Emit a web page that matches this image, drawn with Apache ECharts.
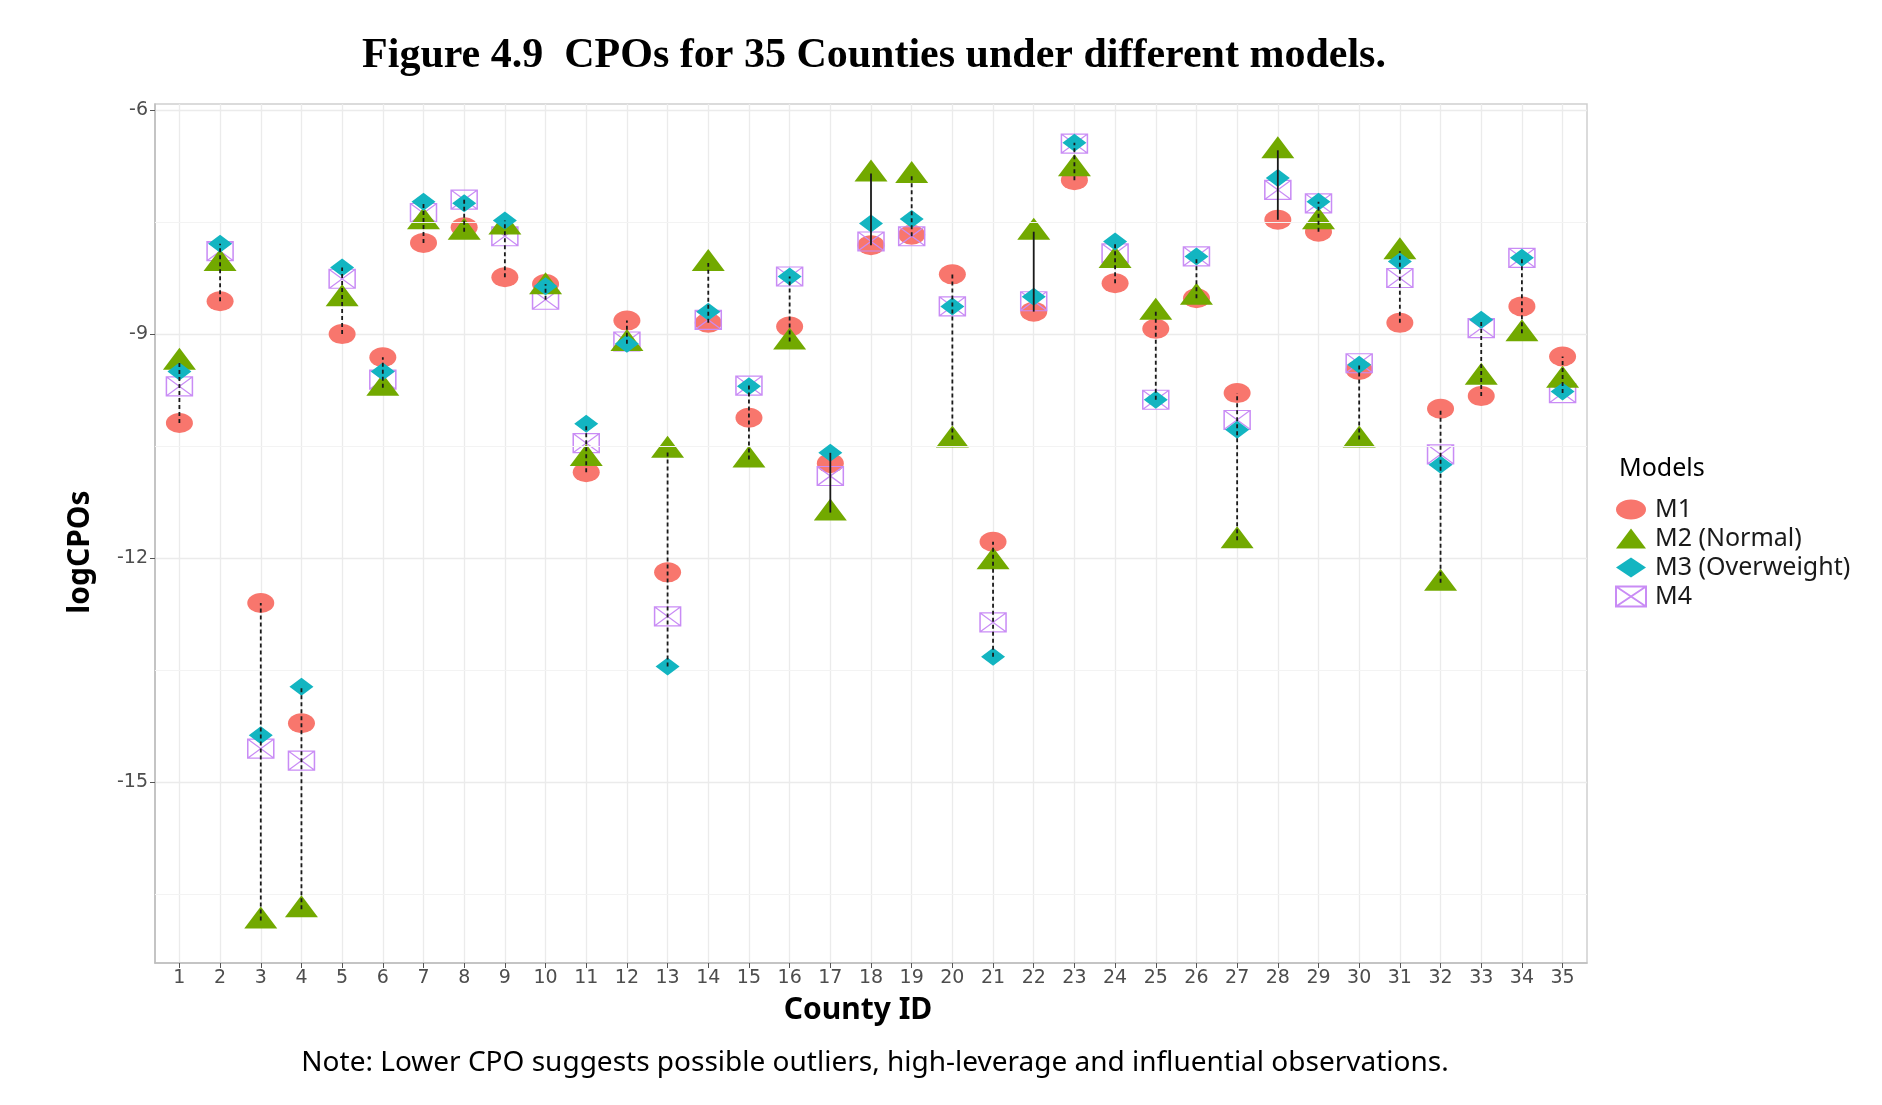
<!DOCTYPE html>
<html>
<head>
<meta charset="utf-8">
<script src="https://cdn.jsdelivr.net/npm/echarts@6/dist/echarts.min.js"></script>
<style>
  html, body { margin: 0; padding: 0; background: #fff; }
  #main { width: 1882px; height: 1105px; }
</style>
</head>
<body>
<div id="main"></div>
<script>
// county ids (x tick labels)
let counties = [1, 2, 3, 4, 5, 6, 7, 8, 9, 10, 11, 12, 13, 14, 15, 16, 17, 18, 19, 20,
  21, 22, 23, 24, 25, 26, 27, 28, 29, 30, 31, 32, 33, 34, 35]
let yTicks = [-15, -12, -9, -6]
let yMinor = [-16.5, -13.5, -10.5, -7.5]

// logCPO per county
let m1 = [-10.19, -8.56, -12.60, -14.21, -9.00, -9.31, -7.78, -7.57, -8.24, -8.33,
  -10.85, -8.82, -12.19, -8.85, -10.12, -8.90, -10.73, -7.81, -7.67, -8.20,
  -11.78, -8.70, -6.94, -8.32, -8.93, -8.52, -9.79, -7.47, -7.63, -9.48,
  -8.85, -10.00, -9.83, -8.63, -9.30]
let m2 = [-9.37, -8.05, -16.85, -16.70, -8.52, -9.72, -7.49, -7.63, -7.56, -8.36,
  -10.66, -9.12, -10.55, -8.05, -10.68, -9.10, -11.39, -6.85, -6.87, -10.41,
  -12.04, -7.63, -6.78, -8.01, -8.70, -8.50, -11.76, -6.54, -7.49, -10.41,
  -7.89, -12.33, -9.57, -8.99, -9.61]
let m3 = [-9.50, -7.79, -14.37, -13.72, -8.11, -9.50, -7.23, -7.25, -7.48, -8.36,
  -10.20, -9.13, -13.45, -8.70, -9.70, -8.23, -10.59, -7.52, -7.46, -8.63,
  -13.32, -8.50, -6.44, -7.76, -9.88, -7.96, -10.28, -6.91, -7.23, -9.41,
  -8.03, -10.75, -8.81, -7.98, -9.77]
let m4 = [-9.70, -7.89, -14.55, -14.71, -8.26, -9.61, -7.38, -7.20, -7.69, -8.54,
  -10.46, -9.10, -12.78, -8.81, -9.69, -8.23, -10.90, -7.76, -7.69, -8.63,
  -12.86, -8.56, -6.45, -7.92, -9.88, -7.96, -10.15, -7.07, -7.25, -9.39,
  -8.25, -10.61, -8.92, -7.98, -9.79]
// counties whose range line is drawn solid instead of dashed
let solidLines = [17, 18, 22, 28]

let chart = echarts.init(document.getElementById('main'), null, { renderer: 'canvas' })

const ellipse = 'path://M0,10A10,10,0,1,1,20,10A10,10,0,1,1,0,10Z'
const boxX = 'path://M0,0L20,0L20,20L0,20Z M0,0L20,20 M20,0L0,20'
const tickFont = { fontFamily: 'DejaVu Sans', fontSize: 19, color: '#4d4d4d' }

function pts(arr) {
  return arr.map((v, i) => [counties[i], v])
}

// min/max of the four models for each county
let ranges = counties.map((c, i) => {
  let vals = [m1[i], m2[i], m3[i], m4[i]]
  return [c, Math.min(...vals), Math.max(...vals), solidLines.includes(c) ? 1 : 0]
})

function txt(x, y, text, font, align, rot) {
  return {
    type: 'text', x: x, y: y, rotation: rot || 0,
    style: { text: text, font: font, fill: '#000', align: align, verticalAlign: 'middle',
      textAlign: align, textVerticalAlign: 'middle' }
  }
}

let option = {
  backgroundColor: '#fff',
  animation: false,
  grid: {
    left: 155, right: 295, top: 104, bottom: 142,
    show: true, borderColor: '#cfcfcf', borderWidth: 1.5
  },
  xAxis: {
    type: 'value', min: 0.4, max: 35.6,
    axisLine: { show: true, lineStyle: { color: '#bdbdbd', width: 1.5 } },
    axisTick: { show: true, length: 5, customValues: counties, lineStyle: { color: '#555' } },
    axisLabel: Object.assign({ customValues: counties, margin: 6 }, tickFont),
    splitLine: { show: true, lineStyle: { color: '#ebebeb', width: 1.3 } }
  },
  yAxis: {
    type: 'value', min: -17.42, max: -5.92,
    axisLine: { show: true, lineStyle: { color: '#bdbdbd', width: 1.5 } },
    axisTick: { show: true, length: 5, customValues: yTicks, lineStyle: { color: '#555' } },
    axisLabel: Object.assign({ customValues: yTicks, margin: 7 }, tickFont),
    splitLine: { show: true, lineStyle: { color: '#ebebeb', width: 1.3 } }
  },
  legend: {
    orient: 'vertical', left: 1610, top: 492,
    itemWidth: 30, itemHeight: 20, itemGap: 4,
    symbolKeepAspect: false,
    data: ['M1', 'M2 (Normal)', 'M3 (Overweight)', 'M4'],
    textStyle: { fontFamily: 'Noto Sans', fontSize: 25, lineHeight: 25, color: '#1a1a1a', padding: [0, 0, 0, 4] }
  },
  graphic: [
    txt(874, 56, 'Figure 4.9  CPOs for 35 Counties under different models.', 'bold 42px "Liberation Serif"', 'center'),
    txt(80, 552, 'logCPOs', 'bold 30px "Noto Sans"', 'center', Math.PI / 2),
    txt(858, 1010, 'County ID', 'bold 30px "Noto Sans"', 'center'),
    txt(875, 1063, 'Note: Lower CPO suggests possible outliers, high-leverage and influential observations.', '28px "Noto Sans"', 'center'),
    txt(1619, 469, 'Models', '25px "Noto Sans"', 'left')
  ],
  series: [
    {
      // minor gridlines
      type: 'line', data: [], silent: true, z: 0,
      markLine: {
        silent: true, symbol: 'none', label: { show: false },
        lineStyle: { color: '#f3f3f3', width: 1, type: 'solid' },
        data: yMinor.map(v => ({ yAxis: v }))
      }
    },
    {
      name: 'M1', type: 'scatter', data: pts(m1), z: 2,
      symbol: ellipse, symbolSize: [27, 20],
      itemStyle: { color: '#F8766D', opacity: 1 }
    },
    {
      name: 'M4', type: 'scatter', data: pts(m4), z: 3,
      symbol: boxX, symbolSize: [26, 19],
      itemStyle: { color: 'rgba(0,0,0,0)', borderColor: '#C98CF5', borderWidth: 1.3, opacity: 1 }
    },
    {
      name: 'M2 (Normal)', type: 'scatter', data: pts(m2), z: 4,
      symbol: 'triangle', symbolSize: [33, 22], symbolOffset: [0, -3],
      itemStyle: { color: '#72A900', opacity: 1 }
    },
    {
      name: 'M3 (Overweight)', type: 'scatter', data: pts(m3), z: 5,
      symbol: 'diamond', symbolSize: [24, 18],
      itemStyle: { color: '#13B5C1', opacity: 1 }
    },
    {
      // vertical range line per county
      type: 'custom', z: 6, silent: true,
      data: ranges,
      encode: { x: 0, y: [1, 2] },
      renderItem: function (params, api) {
        let p1 = api.coord([api.value(0), api.value(1)])
        let p2 = api.coord([api.value(0), api.value(2)])
        return {
          type: 'line',
          shape: { x1: p1[0], y1: p1[1], x2: p2[0], y2: p2[1] },
          style: { stroke: '#1a1a1a', lineWidth: 1.8, lineDash: api.value(3) ? null : [4, 3] }
        }
      }
    }
  ]
}
chart.setOption(option)
</script>
</body>
</html>
